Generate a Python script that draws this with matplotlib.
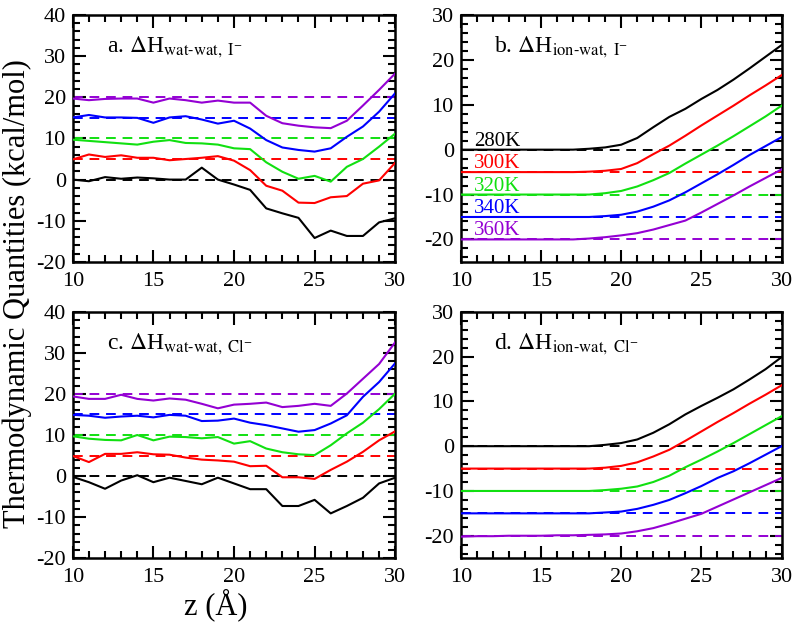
import matplotlib
matplotlib.use("Agg")
import matplotlib.pyplot as plt
from matplotlib.ticker import MultipleLocator

plt.rcParams['font.family'] = ['Liberation Serif', 'DejaVu Serif']
plt.rcParams['mathtext.fontset'] = 'stix'
plt.rcParams['axes.unicode_minus'] = False

# z positions (Angstrom)
z = [10, 11, 12, 13, 14, 15, 16, 17, 18, 19, 20, 21, 22, 23, 24, 25, 26, 27, 28, 29, 30]

temps = ['280K', '300K', '320K', '340K', '360K']
colors = ['black', '#ff0000', '#11e011', '#0000ff', '#9400d3']

# a. dH wat-wat, I-  (curves shifted by 0,5,10,15,20)
a_280 = [0, -0.4, 0.6, 0.2, 0.5, 0.3, 0, 0, 2.9, 0, -1.2, -2.5, -7.0, -8.2, -9.3, -14.2, -12.4, -13.7, -13.7, -10.4, -9.4]
a_300 = [4.9, 6.1, 5.5, 5.9, 5.3, 5.3, 4.7, 5.0, 5.3, 5.7, 4.6, 2.3, -1.5, -2.7, -5.6, -5.7, -4.3, -4.0, -1.0, -0.2, 4.1]
a_320 = [9.7, 9.4, 9.1, 8.8, 8.5, 9.2, 9.6, 8.9, 8.8, 8.5, 7.6, 7.4, 4.2, 1.9, 0.2, 0.9, -0.5, 3.1, 5.0, 8.0, 11.2]
a_340 = [15.1, 15.7, 15.1, 15.1, 15.0, 13.8, 15.1, 15.4, 14.6, 13.6, 14.3, 12.4, 9.6, 7.8, 7.2, 6.8, 7.6, 10.4, 12.9, 16.5, 21.0]
a_360 = [19.7, 19.3, 19.6, 19.7, 19.7, 18.7, 19.7, 19.3, 18.7, 19.2, 18.7, 18.7, 15.5, 13.7, 13.1, 12.7, 12.5, 14.3, 18.0, 21.8, 25.8]

# b. dH ion-wat, I-  (shifted by 0,-5,-10,-15,-20)
b_280 = [0, 0, 0, 0, 0, 0, 0, 0, 0.2, 0.5, 1.1, 2.6, 5.0, 7.3, 9.1, 11.3, 13.3, 15.6, 18.1, 20.7, 23.3]
b_300 = [-5, -5, -5, -5, -5, -5, -5, -5, -4.9, -4.7, -4.3, -3.0, -1.0, 0.9, 3.1, 5.4, 7.6, 9.8, 12.1, 14.3, 16.6]
b_320 = [-10, -10, -10, -10, -10, -10, -10, -10, -10, -9.7, -9.2, -8.2, -6.8, -5.2, -3.1, -1.1, 0.9, 3.0, 5.2, 7.4, 9.8]
b_340 = [-15, -15, -15, -15, -15, -15, -15, -15, -15, -14.8, -14.5, -13.8, -12.7, -11.3, -9.5, -7.5, -5.5, -3.4, -1.2, 0.8, 2.8]
b_360 = [-20, -20, -20, -20, -20, -20, -20, -20, -19.8, -19.5, -19.1, -18.6, -17.8, -16.8, -15.8, -14.0, -12.1, -10.2, -8.2, -6.3, -4.4]

# c. dH wat-wat, Cl-
c_280 = [-0.2, -1.5, -3.1, -1.1, 0.2, -1.5, -0.4, -1.2, -2.0, -0.4, -1.8, -3.2, -3.2, -7.3, -7.3, -5.8, -9.1, -7.3, -5.3, -1.8, -0.4]
c_300 = [4.9, 3.4, 5.4, 5.4, 5.8, 5.3, 5.2, 4.5, 4.0, 3.8, 3.5, 2.4, 2.5, -0.3, -0.3, -0.7, 1.5, 3.5, 5.9, 8.7, 10.9]
c_320 = [9.7, 9.1, 8.8, 8.7, 10.0, 8.7, 9.6, 9.5, 9.2, 9.5, 7.9, 8.5, 6.7, 5.8, 5.3, 5.1, 7.5, 10.4, 13.0, 16.3, 20.1]
c_340 = [14.9, 14.7, 14.2, 14.5, 14.7, 14.3, 14.9, 14.7, 13.4, 13.5, 14.0, 13.0, 12.4, 11.6, 10.8, 11.2, 12.8, 14.8, 19.3, 22.9, 27.5]
c_360 = [19.4, 18.8, 18.8, 19.8, 18.8, 18.4, 18.9, 18.6, 17.6, 16.5, 17.4, 17.6, 17.9, 16.8, 17.1, 17.6, 17.1, 20.1, 23.7, 27.3, 32.6]

# d. dH ion-wat, Cl-
d_280 = [0, 0, 0, 0, 0, 0, 0, 0, 0, 0.3, 0.7, 1.5, 3.0, 4.9, 7.1, 9.0, 10.8, 12.7, 14.9, 17.2, 19.9]
d_300 = [-5, -5, -5, -5, -5, -5, -5, -5, -5, -4.8, -4.4, -3.6, -2.3, -0.8, 1.2, 3.3, 5.4, 7.4, 9.5, 11.5, 13.6]
d_320 = [-10, -10, -10, -10, -10, -10, -10, -10, -10, -9.8, -9.5, -9.0, -8.0, -6.6, -4.7, -3.0, -1.2, 0.7, 2.7, 4.7, 6.7]
d_340 = [-15, -15, -15, -15, -15, -15, -15, -15, -15, -14.8, -14.6, -14.0, -13.1, -12.0, -10.5, -8.9, -7.1, -5.6, -3.8, -1.9, 0.0]
d_360 = [-20.2, -20.1, -20.1, -20.0, -20.0, -20.0, -19.9, -19.9, -19.8, -19.7, -19.5, -19.0, -18.3, -17.3, -16.2, -15.1, -13.5, -11.9, -10.3, -8.7, -7.1]

shift_left = [0, 5, 10, 15, 20]
shift_right = [0, -5, -10, -15, -20]


def panel(ax, curves, shifts, ylim, title):
    for i in range(len(curves)):
        ax.plot(z, curves[i], color=colors[i], lw=1.5, zorder=3)
        ax.plot([z[0], z[-1]], [shifts[i], shifts[i]], color=colors[i], lw=1.4,
                ls=(0, (5, 3.5)), zorder=2)
    ax.set_xlim(10, 30)
    ax.set_ylim(ylim)
    ax.xaxis.set_major_locator(MultipleLocator(5))
    ax.xaxis.set_minor_locator(MultipleLocator(1))
    ax.yaxis.set_major_locator(MultipleLocator(10))
    ax.yaxis.set_minor_locator(MultipleLocator(2))
    ax.tick_params(which='both', direction='in', top=True, right=True, width=1.5, labelsize=16)
    ax.tick_params(which='major', length=9)
    ax.tick_params(axis='x', which='major', pad=7)
    ax.tick_params(axis='y', which='major', pad=5)
    ax.tick_params(which='minor', length=5)
    for s in ax.spines.values():
        s.set_linewidth(1.8)
    ax.text(0.105, 0.85, title, transform=ax.transAxes, fontsize=17)


fig = plt.figure(figsize=(8, 6.25), dpi=100)
ax_a = fig.add_axes([0.091, 0.581, 0.403, 0.395])
ax_b = fig.add_axes([0.576, 0.581, 0.401, 0.395])
ax_c = fig.add_axes([0.091, 0.107, 0.403, 0.394])
ax_d = fig.add_axes([0.576, 0.107, 0.401, 0.394])

panel(ax_a, [a_280, a_300, a_320, a_340, a_360], shift_left, (-20, 40),
      r'a. $\Delta$H$_{\mathrm{wat\text{-}wat,\ I}^{-}}$')
panel(ax_b, [b_280, b_300, b_320, b_340, b_360], shift_right, (-25, 30),
      r'b. $\Delta$H$_{\mathrm{ion\text{-}wat,\ I}^{-}}$')
panel(ax_c, [c_280, c_300, c_320, c_340, c_360], shift_left, (-20, 40),
      r'c. $\Delta$H$_{\mathrm{wat\text{-}wat,\ Cl}^{-}}$')
panel(ax_d, [d_280, d_300, d_320, d_340, d_360], shift_right, (-25, 30),
      r'd. $\Delta$H$_{\mathrm{ion\text{-}wat,\ Cl}^{-}}$')

# temperature labels in panel b
for i in range(len(temps)):
    ax_b.text(10.8, shift_right[i] + 0.9, temps[i], color=colors[i], fontsize=15, va='baseline')

fig.text(0.022, 0.53, 'Thermodynamic Quantities (kcal/mol)', rotation=90,
         ha='center', va='center', fontsize=22)
fig.text(0.27, 0.032, u'z (\u00c5)', ha='center', va='center', fontsize=22)

fig.savefig('out.png', dpi=100)
